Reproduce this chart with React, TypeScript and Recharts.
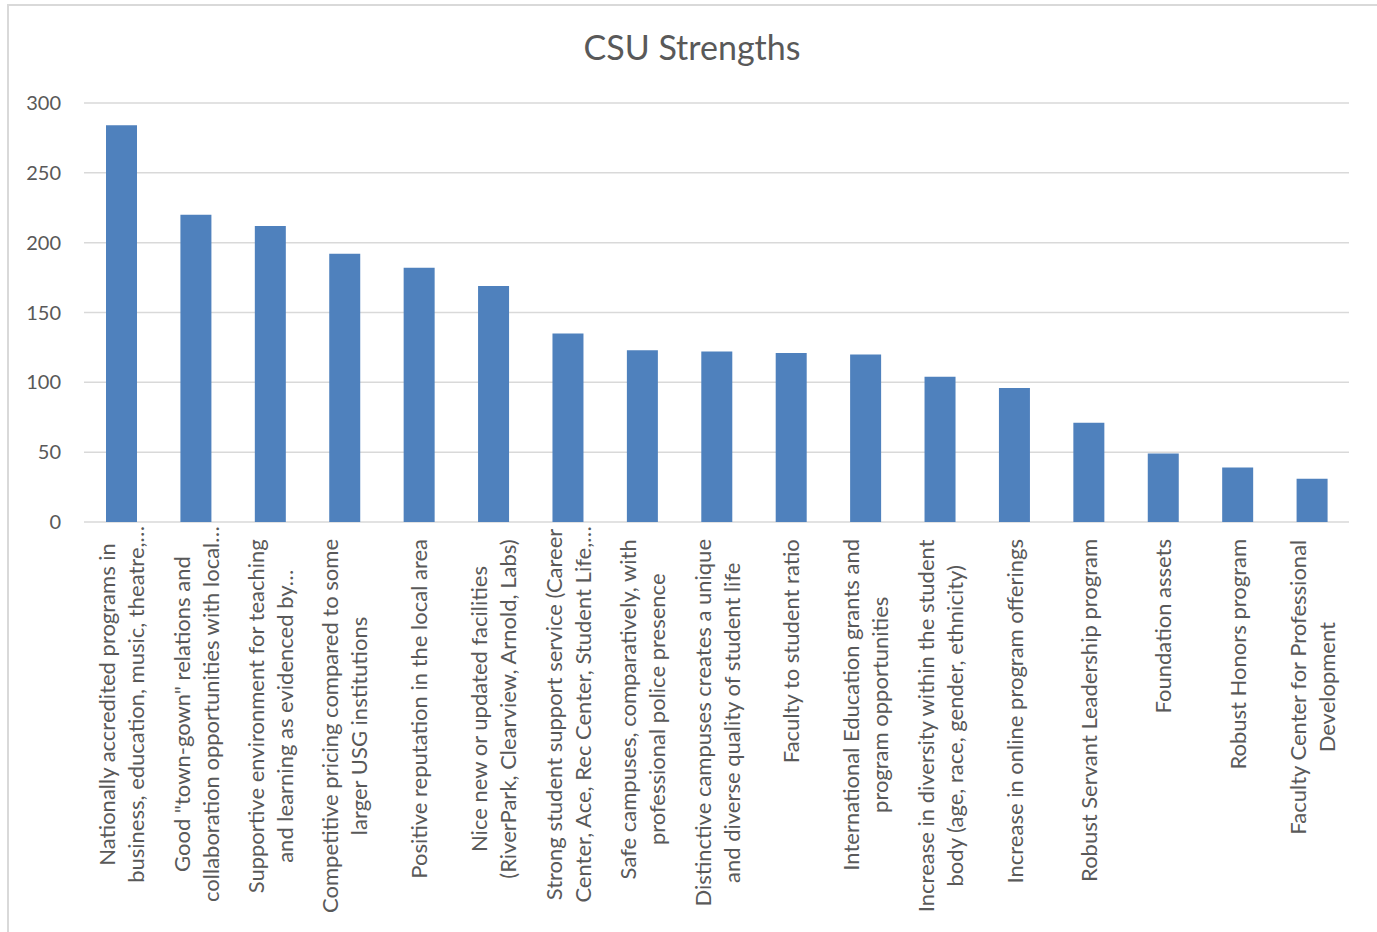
import React from 'react';
import { BarChart, Bar, XAxis, YAxis, CartesianGrid } from 'recharts';

// Category labels, already wrapped/truncated the way the original chart shows them
const categoryLines: string[][] = [
  ['Nationally accredited programs in', 'business, education, music, theatre,…'],
  ['Good "town-gown" relations and', 'collaboration opportunities with local…'],
  ['Supportive environment for teaching', 'and learning as evidenced by…'],
  ['Competitive pricing compared to some', 'larger USG institutions'],
  ['Positive reputation in the local area'],
  ['Nice new or updated facilities', '(RiverPark, Clearview, Arnold, Labs)'],
  ['Strong student support service (Career', 'Center, Ace, Rec Center, Student Life,…'],
  ['Safe campuses, comparatively, with', 'professional police presence'],
  ['Distinctive campuses creates a unique', 'and diverse quality of student life'],
  ['Faculty to student ratio'],
  ['International Education grants and', 'program opportunities'],
  ['Increase in diversity within the student', 'body (age, race, gender, ethnicity)'],
  ['Increase in online program offerings'],
  ['Robust Servant Leadership program'],
  ['Foundation assets'],
  ['Robust Honors program'],
  ['Faculty Center for Professional', 'Development'],
];

const strengthCounts = [284, 220, 212, 192, 182, 169, 135, 123, 122, 121, 120, 104, 96, 71, 49, 39, 31];

const yTicks = [0, 50, 100, 150, 200, 250, 300];

const FONT = 'Lato, "Open Sans", sans-serif';
const TEXT_COLOR = '#595959';
const LABEL_SIZE = 22;
const LINE_HEIGHT = 29;

const chartData = categoryLines.map((lines, i) => ({
  name: lines.join(' '),
  value: strengthCounts[i],
}));

let ctx: CanvasRenderingContext2D | null = null;
function textWidth(s: string, size: number) {
  if (!ctx) ctx = document.createElement('canvas').getContext('2d');
  if (!ctx) return s.length * size * 0.5;
  ctx.font = `${size}px ${FONT}`;
  return ctx.measureText(s).width;
}

const CategoryTick = ({ x, y, index }: any) => {
  const lines = categoryLines[index] || [];
  const widths = lines.map((l) => textWidth(l, LABEL_SIZE));
  const maxW = Math.max(...widths);
  const longest = lines[widths.indexOf(maxW)] || '';
  // truncated lines in the original sit closer to the axis
  const top = longest.endsWith('…') ? 4 : 17;
  const center = top + maxW / 2;
  return (
    <g transform={`translate(${x},${y + center}) rotate(-90)`}>
      {lines.map((line, i) => (
        <text
          key={i}
          x={0}
          y={(i - (lines.length - 1) / 2) * LINE_HEIGHT}
          textAnchor="middle"
          dominantBaseline="central"
          fill={TEXT_COLOR}
          fontSize={LABEL_SIZE}
          fontFamily={FONT}
        >
          {line}
        </text>
      ))}
    </g>
  );
};

export default function App() {
  return (
    <div style={{ position: 'relative', width: 1377, height: 932, overflow: 'hidden', background: '#fff' }}>
      <style>{`body{margin:0}`}</style>
      {/* chart frame */}
      <div
        style={{
          position: 'absolute',
          left: 7,
          top: 4,
          width: 1500,
          height: 1100,
          border: '2px solid #d9d9d9',
        }}
      />
      <BarChart
        width={1377}
        height={932}
        data={chartData}
        margin={{ top: 103, right: 28, bottom: 0, left: 0 }}
      >
        <CartesianGrid vertical={false} stroke="#d9d9d9" strokeWidth={1.5} />
        <XAxis
          dataKey="name"
          interval={0}
          height={410}
          tickLine={false}
          axisLine={false}
          tickSize={0}
          tickMargin={0}
          tick={<CategoryTick />}
        />
        <YAxis
          width={84}
          domain={[0, 300]}
          ticks={yTicks}
          tickLine={false}
          axisLine={false}
          tickSize={0}
          tickMargin={23}
          tick={{ fill: TEXT_COLOR, fontSize: 20, fontFamily: FONT }}
        />
        <Bar dataKey="value" fill="#4f81bd" barSize={31} isAnimationActive={false} />
      </BarChart>
      <svg width={1377} height={932} style={{ position: 'absolute', left: 0, top: 0, pointerEvents: 'none' }}>
        <text x={692} y={60} textAnchor="middle" fill={TEXT_COLOR} fontSize={34} fontFamily={FONT}>
          CSU Strengths
        </text>
      </svg>
    </div>
  );
}
